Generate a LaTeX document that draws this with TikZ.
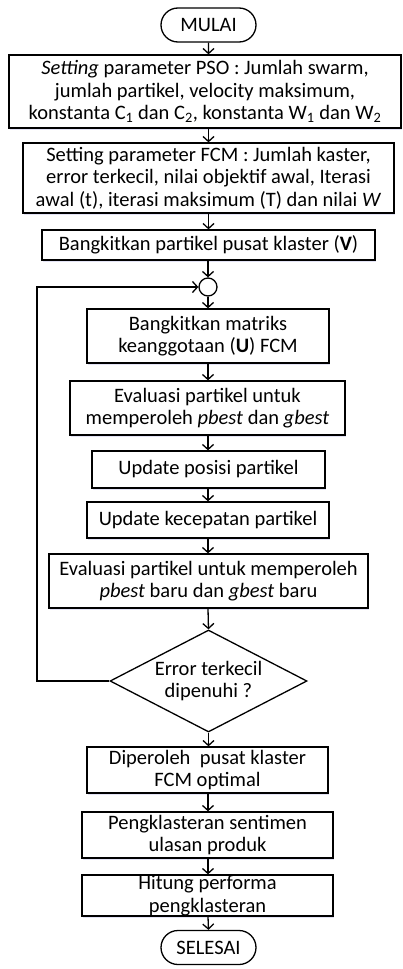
\documentclass[tikz,border=0pt]{standalone}
\usepackage{fontspec}
\setmainfont{Carlito}
\usetikzlibrary{arrows.meta,shapes.geometric,shapes.misc,shadows}
\begin{document}
\begin{tikzpicture}[x=1pt,y=-1pt,
  every node/.style={font=\fontsize{20.5}{22.5}\selectfont},
  shad/.style={drop shadow={shadow xshift=0.8pt,shadow yshift=-2pt,fill=blue!45!gray,opacity=0.15}},
  box/.style={draw,line width=1.3pt,fill=white,shad,align=center,inner sep=0pt},
  term/.style={draw,line width=1.3pt,fill=white,rounded rectangle,align=center,inner sep=0pt,minimum width=95pt,minimum height=34pt},
  dec/.style={draw,line width=1.3pt,fill=white,diamond,aspect=1.93,inner sep=0pt,align=center,minimum width=197pt,minimum height=102pt},
  arr/.style={line width=1.3pt,-{Straight Barb[length=5pt,width=11pt,line width=1.3pt]}},
  ln/.style={line width=1.3pt}]
\useasboundingbox (0,0) rectangle (403,969);
\node[term] (mulai) at (208.5,25) {MULAI};
\node[box,minimum width=392pt,minimum height=73pt] (b1) at (205,91.5)
  {\textit{Setting} parameter PSO : Jumlah swarm,\\ jumlah partikel, velocity maksimum,\\ konstanta C\textsubscript{1} dan C\textsubscript{2}, konstanta W\textsubscript{1} dan W\textsubscript{2}};
\node[box,minimum width=371pt,minimum height=70pt] (b2) at (208.5,178)
  {Setting parameter FCM : Jumlah kaster,\\ error terkecil, nilai objektif awal, Iterasi\\ awal (t), iterasi maksimum (T) dan nilai \textit{W}};
\node[box,minimum width=333pt,minimum height=30pt] (b3) at (208.5,245)
  {Bangkitkan partikel pusat klaster (\textbf{V})};
\node[draw,line width=1.3pt,circle,minimum size=18pt,inner sep=0pt] (j) at (208,287) {};
\node[box,minimum width=242pt,minimum height=54pt] (b4) at (208,336)
  {Bangkitkan matriks\\ keanggotaan (\textbf{U}) FCM};
\node[box,minimum width=275pt,minimum height=54pt] (b5) at (207.5,408)
  {Evaluasi partikel untuk\\ memperoleh \textit{pbest} dan \textit{gbest}};
\node[box,minimum width=233pt,minimum height=37pt] (b6) at (208.5,469.5)
  {Update posisi partikel};
\node[box,minimum width=242pt,minimum height=36pt] (b7) at (208,520)
  {Update kecepatan partikel};
\node[box,minimum width=319pt,minimum height=54pt] (b8) at (208.5,581)
  {Evaluasi partikel untuk memperoleh\\ \textit{pbest} baru dan \textit{gbest} baru};
\node[dec] (d) at (208.5,681) {Error terkecil\\ dipenuhi ?};
\node[box,minimum width=241pt,minimum height=46pt] (b9) at (207.5,770)
  {Diperoleh\ \ pusat klaster\\ FCM optimal};
\node[box,minimum width=251pt,minimum height=46pt] (b10) at (207.5,835)
  {Pengklasteran sentimen\\ ulasan produk};
\node[box,minimum width=251pt,minimum height=41pt] (b11) at (207.5,895.5)
  {Hitung performa\\ pengklasteran};
\node[term] (selesai) at (208.5,947.5) {SELESAI};
\draw[arr] (mulai) -- (mulai |- b1.north);
\draw[arr] (b1.south -| mulai) -- (mulai |- b2.north);
\draw[arr] (b2.south -| mulai) -- (mulai |- b3.north);
\draw[arr] (b3.south -| j) -- (j.north);
\draw[arr] (j.south) -- (j |- b4.north);
\draw[arr] (b4.south -| j) -- (j |- b5.north);
\draw[arr] (b5.south -| j) -- (j |- b6.north);
\draw[arr] (b6.south -| j) -- (j |- b7.north);
\draw[arr] (b7.south -| j) -- (j |- b8.north);
\draw[arr] (b8.south -| j) -- (d.north);
\draw[arr] (d.south) -- (d |- b9.north);
\draw[arr] (b9.south -| j) -- (j |- b10.north);
\draw[arr] (b10.south -| j) -- (j |- b11.north);
\draw[arr] (b11.south -| j) -- (selesai.north);
\coordinate (lb) at (37,681);
\coordinate (lt) at (37,287);
\draw[arr] (d.west) -- (lb) -- (lt) -- (j.west);
\end{tikzpicture}
\end{document}
